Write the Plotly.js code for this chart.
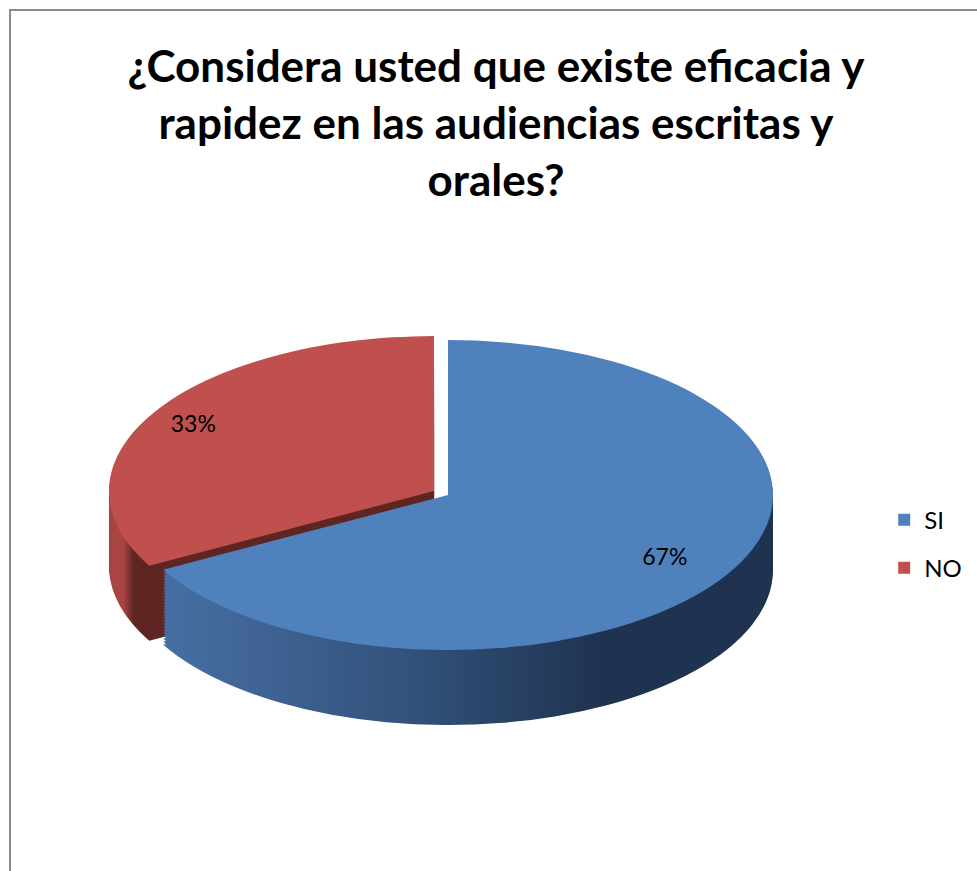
<!DOCTYPE html>
<html>
<head>
<meta charset="utf-8">
<script src="https://cdn.plot.ly/plotly-3.0.1.min.js"></script>
<style>
html,body{margin:0;padding:0;background:#fff;overflow:hidden}
#chart{width:977px;height:871px}
#frame{position:absolute;left:9px;top:9px;width:1000px;height:900px;border-left:2px solid #8c8c8c;border-top:2px solid #8c8c8c;pointer-events:none}
</style>
</head>
<body>
<div id="chart"></div>
<div id="frame"></div>
<script>
// ---- data ----
const categories = ['SI', 'NO'];
const values = [67, 33];
const pulls = [0, 0.05];
const topColors = ['#4f81bd', '#c0504d'];
const sideColors = ['#2f4d76', '#7a2f2d'];
const titleText = '<b>¿Considera usted que existe eficacia y<br>rapidez en las audiencias escritas y<br>orales?</b>';

// ---- 3D look parameters ----
const W = 977, H = 871;
const centerX = 448, targetCy = 495;
const semiA = 325, semiB = 155;
const squash = semiB / semiA;
const depth = 75, step = 3;
const labelSpread = 1.55;
const legendGap = 48;
const D = 2 * semiA * (1 + Math.max(...pulls));

const offsets = [];
for (let o = depth; o >= step; o -= step) offsets.push(o);
offsets.push(0);

const domain = {x: [(centerX - D / 2) / W, (centerX + D / 2) / W], y: [0, 1]};

const traces = offsets.map((o, i) => {
  const isTop = o === 0;
  return {
    type: 'pie',
    labels: categories,
    values: values,
    pull: pulls,
    sort: false,
    direction: 'clockwise',
    rotation: 0,
    domain: domain,
    marker: {colors: isTop ? topColors : sideColors, line: {width: 0}},
    textinfo: isTop ? 'percent' : 'none',
    textposition: 'inside',
    insidetextorientation: 'horizontal',
    textfont: {family: 'Lato, "Open Sans", sans-serif', size: 23, color: '#000'},
    hoverinfo: 'none',
    showlegend: isTop
  };
});

const layout = {
  width: W, height: H,
  margin: {l: 0, r: 0, t: 0, b: 0},
  paper_bgcolor: '#ffffff',
  plot_bgcolor: '#ffffff',
  title: {
    text: titleText,
    font: {family: 'Lato, "Open Sans", sans-serif', size: 44, color: '#000'},
    x: 496 / W, xanchor: 'center',
    xref: 'container', yref: 'container',
    y: 1 - 82 / H, yanchor: 'top'
  },
  showlegend: true,
  legend: {
    x: 0.905, xanchor: 'left', y: 1 - 544 / H, yanchor: 'middle',
    font: {family: 'Lato, "Open Sans", sans-serif', size: 24, color: '#000'},
    bgcolor: 'rgba(0,0,0,0)'
  }
};

function addGradients(svg) {
  const ns = 'http://www.w3.org/2000/svg';
  let defs = svg.querySelector('defs');
  if (!defs) { defs = document.createElementNS(ns, 'defs'); svg.insertBefore(defs, svg.firstChild); }
  function grad(id, stops) {
    const g = document.createElementNS(ns, 'linearGradient');
    g.setAttribute('id', id);
    g.setAttribute('x1', '0'); g.setAttribute('x2', '1');
    g.setAttribute('y1', '0'); g.setAttribute('y2', '0');
    stops.forEach(s => {
      const st = document.createElementNS(ns, 'stop');
      st.setAttribute('offset', s[0]);
      st.setAttribute('stop-color', s[1]);
      g.appendChild(st);
    });
    defs.appendChild(g);
  }
  grad('siSide', [[0, '#476fa3'], [0.4, '#33527c'], [0.72, '#1f3350'], [1, '#1f3350']]);
  grad('noSide', [[0, '#a84442'], [0.045, '#a84442'], [0.075, '#5f2523'], [1, '#5f2523']]);
}

const gd = document.getElementById('chart');
Plotly.newPlot(gd, traces, layout, {displayModeBar: false, staticPlot: true}).then(() => {
  const svg = gd.querySelector('.main-svg');
  addGradients(svg);
  const groups = gd.querySelectorAll('.pielayer > g.trace');
  groups.forEach((g, i) => {
    const cd0 = gd.calcdata[i][0];
    const c = (cd0 && cd0.cy) ? cd0.cy : H / 2;
    const cx = (cd0 && cd0.cx) ? cd0.cx : centerX;
    const off = offsets[i];
    g.setAttribute('transform', `translate(0,${targetCy + off}) scale(1,${squash}) translate(0,${-c})`);
    const paths = g.querySelectorAll('path.surface');
    if (off !== 0) {
      paths.forEach((p, j) => { p.style.fill = j === 0 ? 'url(#siSide)' : 'url(#noSide)'; });
    } else {
      g.querySelectorAll('g.slicetext').forEach(st => {
        const bb = st.getBBox();
        const xc = bb.x + bb.width / 2;
        const yc = bb.y + bb.height / 2;
        const dx = (xc - cx) * (labelSpread - 1);
        const dy = (yc - c) * (labelSpread - 1);
        st.setAttribute('transform', `translate(${dx},${yc + dy}) scale(1,${1 / squash}) translate(0,${-yc})`);
      });
    }
  });
  // spread legend entries like the original
  const items = gd.querySelectorAll('.legend .traces');
  if (items.length > 1) {
    const base = [];
    items.forEach(it => {
      const m = /translate\(([-\d.]+)[ ,]+([-\d.]+)\)/.exec(it.getAttribute('transform') || '');
      base.push(m ? [parseFloat(m[1]), parseFloat(m[2])] : [0, 0]);
    });
    const mid = (base[0][1] + base[base.length - 1][1]) / 2;
    const n = items.length;
    items.forEach((it, i) => {
      const y = mid + (i - (n - 1) / 2) * legendGap;
      it.setAttribute('transform', `translate(${base[i][0]},${y})`);
    });
  }
});
</script>
</body>
</html>
